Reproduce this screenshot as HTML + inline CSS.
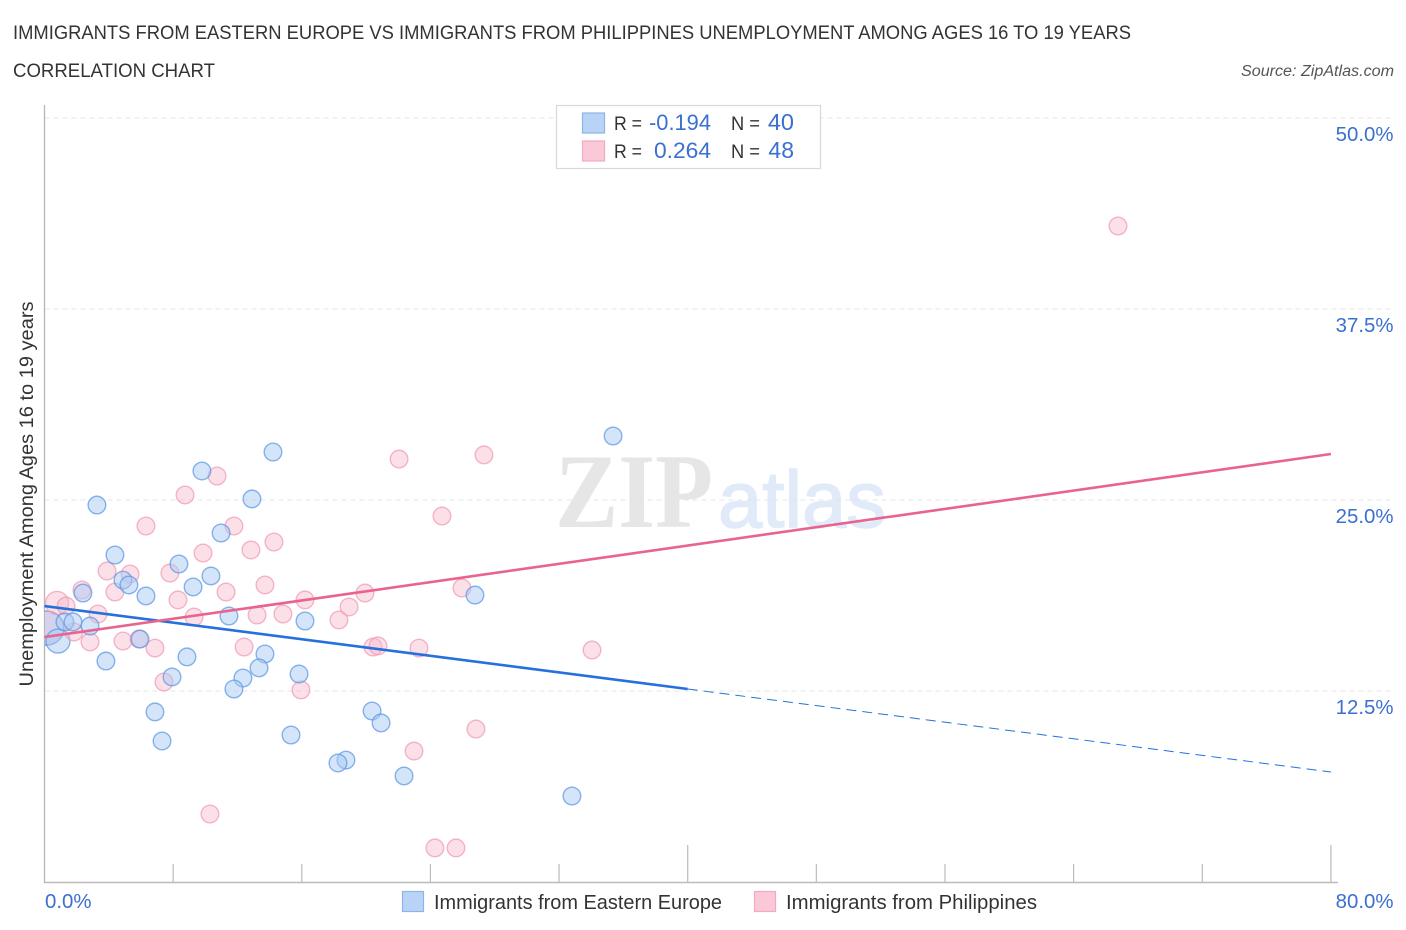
<!DOCTYPE html>
<html lang="en">
<head>
<meta charset="utf-8">
<title>Immigrants from Eastern Europe vs Immigrants from Philippines Unemployment</title>
<style>
html,body{margin:0;padding:0;background:#fff;}
svg{display:block;font-family:"Liberation Sans",sans-serif;}
</style>
</head>
<body>
<svg id="chart" xmlns="http://www.w3.org/2000/svg" width="1406" height="930" viewBox="0 0 1406 930">
  <rect x="0" y="0" width="1406" height="930" fill="#ffffff"/>
  <text x="13" y="39" font-size="19" fill="#333333" textLength="1118" lengthAdjust="spacingAndGlyphs">IMMIGRANTS FROM EASTERN EUROPE VS IMMIGRANTS FROM PHILIPPINES UNEMPLOYMENT AMONG AGES 16 TO 19 YEARS</text>
  <text x="13" y="77" font-size="19" fill="#333333" textLength="202" lengthAdjust="spacingAndGlyphs">CORRELATION CHART</text>
  <text x="1394" y="76" font-size="15.5" font-style="italic" fill="#555555" text-anchor="end" textLength="153" lengthAdjust="spacingAndGlyphs">Source: ZipAtlas.com</text>

  <g id="watermark">
    <text x="555" y="527" font-family="'Liberation Serif',serif" font-weight="bold" font-size="106" fill="#e6e6e6" textLength="158" lengthAdjust="spacingAndGlyphs">ZIP</text>
    <text x="718" y="527" font-family="'Liberation Sans',sans-serif" font-size="80" fill="#e0eaf8" stroke="#e0eaf8" stroke-width="1.5" textLength="168" lengthAdjust="spacingAndGlyphs">atlas</text>
  </g>

  <g id="grid"></g>
  <g id="axes"></g>
  <g id="marks"></g>
  <g id="trends"></g>
  <g id="labels"></g>

  <text transform="translate(33,494) rotate(-90)" font-size="19" fill="#333333" text-anchor="middle" textLength="385" lengthAdjust="spacingAndGlyphs">Unemployment Among Ages 16 to 19 years</text>

  <g>
    <rect x="556.5" y="105.5" width="264" height="63" fill="#ffffff" stroke="#d8d8d8" stroke-width="1.2"/>
    <rect x="582.5" y="113" width="22" height="20" fill="#b8d3f6" stroke="#8db4ea" stroke-width="1.2"/>
    <rect x="582.5" y="141" width="22" height="20" fill="#fbc8d8" stroke="#f3a9c0" stroke-width="1.2"/>
    <text x="614" y="130" font-size="19.5" fill="#333333" textLength="28" lengthAdjust="spacingAndGlyphs">R =</text>
    <text x="711" y="130" font-size="22.5" fill="#3b6fd0" text-anchor="end" textLength="62" lengthAdjust="spacingAndGlyphs">-0.194</text>
    <text x="731" y="130" font-size="19.5" fill="#333333" textLength="29" lengthAdjust="spacingAndGlyphs">N =</text>
    <text x="794" y="130" font-size="23.5" fill="#3b6fd0" text-anchor="end">40</text>
    <text x="614" y="158" font-size="19.5" fill="#333333" textLength="28" lengthAdjust="spacingAndGlyphs">R =</text>
    <text x="711" y="158" font-size="22.5" fill="#3b6fd0" text-anchor="end" textLength="57" lengthAdjust="spacingAndGlyphs">0.264</text>
    <text x="731" y="158" font-size="19.5" fill="#333333" textLength="29" lengthAdjust="spacingAndGlyphs">N =</text>
    <text x="794" y="158" font-size="23" fill="#3b6fd0" text-anchor="end">48</text>
  </g>

  <g>
    <rect x="402.5" y="891.5" width="21" height="20" fill="#b8d3f6" stroke="#8db4ea" stroke-width="1.2"/>
    <text x="434" y="909" font-size="20" fill="#333333" textLength="288" lengthAdjust="spacingAndGlyphs">Immigrants from Eastern Europe</text>
    <rect x="754.5" y="891.5" width="21" height="20" fill="#fbc8d8" stroke="#f3a9c0" stroke-width="1.2"/>
    <text x="786" y="909" font-size="20" fill="#333333" textLength="251" lengthAdjust="spacingAndGlyphs">Immigrants from Philippines</text>
  </g>
</svg>

<script>
const yTicks = [12.5, 25, 37.5, 50];
const yTickLabels = ["12.5%", "25.0%", "37.5%", "50.0%"];
const xTicks = [8, 16, 24, 32, 40, 48, 56, 64, 72, 80];
const xMajorTicks = [40, 80];
const xEndLabels = ["0.0%", "80.0%"];

const blueX = [35.36,14.21,9.79,12.90,3.26,10.98,4.38,8.36,10.35,4.88,5.25,9.24,2.39,6.31,26.77,11.47,16.20,1.27,1.77,2.83,5.94,3.82,8.86,13.71,13.34,7.93,12.34,15.83,11.78,6.87,20.37,20.93,15.33,7.31,18.75,18.25,22.36,32.80];
const blueY = [29.19,28.14,26.90,25.07,24.67,22.84,21.40,20.81,20.03,19.76,19.44,19.31,18.91,18.72,18.78,17.41,17.08,17.02,17.02,16.75,15.90,14.46,14.73,14.92,14.01,13.42,13.35,13.61,12.63,11.13,11.19,10.41,9.62,9.23,7.98,7.79,6.94,5.63];
const blueLargeX = [0.84];
const blueLargeY = [15.77];
const blueClusterX = [0.15];
const blueClusterY = [16.62];

const pinkX = [66.76,27.33,22.05,10.73,8.74,24.72,6.31,11.78,14.27,12.84,9.86,3.89,5.32,7.80,2.33,4.38,13.71,11.29,8.30,16.20,19.93,25.96,1.34,3.33,9.30,13.22,14.83,18.94,18.31,1.83,2.83,4.88,5.88,6.87,12.41,20.43,20.74,23.29,34.05,7.43,15.95,26.83,22.98,10.29,24.28,25.59];
const pinkY = [42.93,27.95,27.68,26.57,25.33,23.95,23.30,23.30,22.25,21.73,21.53,20.35,20.16,20.22,19.11,18.98,19.44,18.98,18.46,18.46,18.91,19.24,18.06,17.54,17.34,17.47,17.54,18.00,17.15,16.36,15.71,15.77,15.90,15.31,15.38,15.38,15.45,15.31,15.18,13.09,12.57,10.01,8.57,4.45,2.23,2.23];
const pinkLargeX = [0.78];
const pinkLargeY = [18.26];
const pinkClusterX = [0.15];
const pinkClusterY = [16.62];

const trendXs = [0, 40, 80];
const blueTrend = [18.06, 12.63, 7.20];
const pinkTrend = [16.03, 22.02, 28.01];

const NS = "http://www.w3.org/2000/svg";
const xScale = v => 44.5 + v * 16.08;
const yScale = v => 882 - v * 15.28;

function make(parent, tag, attrs) {
  const el = document.createElementNS(NS, tag);
  for (const k in attrs) el.setAttribute(k, attrs[k]);
  document.getElementById(parent).appendChild(el);
  return el;
}

yTicks.forEach((t, i) => {
  const line = make("grid", "line", {x1: 44.5, x2: 1393, y1: yScale(t), y2: yScale(t), stroke: "#e4e4e4", "stroke-width": 1, "stroke-dasharray": "5 4"});
  
  
  const label = make("labels", "text", {x: 1393.5, y: yScale(t) + 23, "font-size": 20.4, fill: "#3b6fd0", "text-anchor": "end"});
  label.textContent = yTickLabels[i];
  
  
});

const yAxis = make("axes", "line", {x1: 44.5, x2: 44.5, y1: 105, y2: 883, stroke: "#b5b5b5", "stroke-width": 1.3});


const xAxis = make("axes", "line", {x1: 44, x2: 1338, y1: 882.5, y2: 882.5, stroke: "#bbbbbb", "stroke-width": 1.5});



xTicks.forEach(t => {
  const top = xMajorTicks.includes(t) ? 845 : 864;
  const tick = make("axes", "line", {x1: xScale(t), x2: xScale(t), y1: top, y2: 882, stroke: "#bbbbbb", "stroke-width": 1.2});
  
  
});

const x0Label = make("labels", "text", {x: 45, y: 908, "font-size": 20.4, fill: "#3b6fd0"});
x0Label.textContent = xEndLabels[0];


const x1Label = make("labels", "text", {x: 1393.5, y: 908, "font-size": 20.4, fill: "#3b6fd0", "text-anchor": "end"});
x1Label.textContent = xEndLabels[1];



const clip = make("marks", "clipPath", {id: "plot-clip"});


const clipRect = document.createElementNS(NS, "rect");
clipRect.setAttribute("x", 44.5);
clipRect.setAttribute("y", 100);
clipRect.setAttribute("width", 1300);
clipRect.setAttribute("height", 783);
clip.appendChild(clipRect);

function drawPoints(xs, ys, r, fill, stroke, fillOpacity, name) {
  xs.forEach((x, i) => {
    const c = make("marks", "circle", {cx: xScale(x), cy: yScale(ys[i]), r: r, fill: fill, "fill-opacity": fillOpacity, stroke: stroke, "stroke-opacity": 0.72, "stroke-width": 1.4, "clip-path": "url(#plot-clip)"});
    
    
  });
}
drawPoints(pinkClusterX, pinkClusterY, 17, "#f9b4c9", "#f09ab5", 0.45, "point-philippines-cluster");
drawPoints(blueClusterX, blueClusterY, 17, "#a9c9f3", "#5c97e4", 0.5, "point-eastern-europe-cluster");
drawPoints(pinkLargeX, pinkLargeY, 11.5, "#f9b4c9", "#f09ab5", 0.42, "point-philippines-large");
drawPoints(blueLargeX, blueLargeY, 12, "#a9c9f3", "#5c97e4", 0.5, "point-eastern-europe-large");
drawPoints(pinkX, pinkY, 8.8, "#f9b4c9", "#f09ab5", 0.42, "point-philippines");
drawPoints(blueX, blueY, 8.8, "#a9c9f3", "#5c97e4", 0.5, "point-eastern-europe");

const blueSolid = make("trends", "line", {x1: xScale(trendXs[0]), y1: yScale(blueTrend[0]), x2: xScale(trendXs[1]), y2: yScale(blueTrend[1]), stroke: "#2670dc", "stroke-width": 2.6});


const blueDash = make("trends", "line", {x1: xScale(trendXs[1]), y1: yScale(blueTrend[1]), x2: xScale(trendXs[2]), y2: yScale(blueTrend[2]), stroke: "#2670dc", "stroke-width": 1, "stroke-dasharray": "10 6"});


const pinkLine = make("trends", "line", {x1: xScale(trendXs[0]), y1: yScale(pinkTrend[0]), x2: xScale(trendXs[2]), y2: yScale(pinkTrend[2]), stroke: "#e8648f", "stroke-width": 2.6});


</script>
</body>
</html>
